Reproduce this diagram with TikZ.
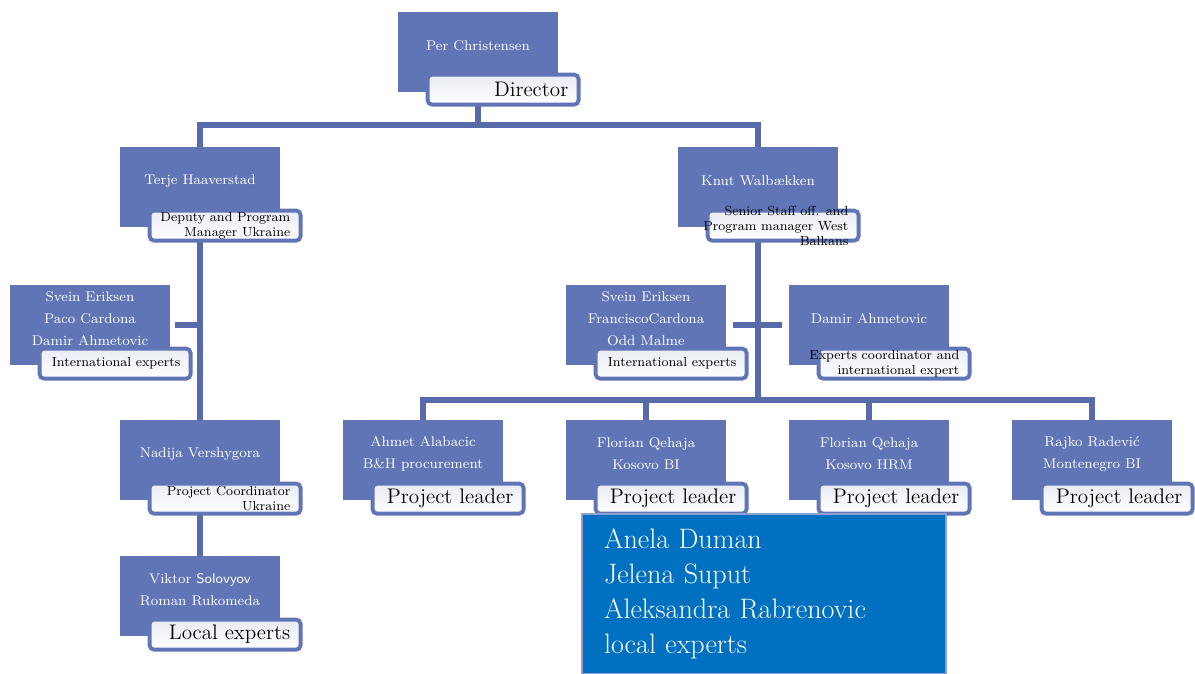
\documentclass[tikz,border=0pt]{standalone}
\usetikzlibrary{backgrounds}
\definecolor{boxblue}{RGB}{96,117,182}
\definecolor{lineblue}{RGB}{88,106,170}
\definecolor{localblue}{RGB}{0,112,192}
\definecolor{rimblue}{RGB}{143,160,208}
\tikzset{
	person/.style={fill=boxblue, minimum width=3.2cm, minimum height=1.6cm, inner sep=0pt},
	who/.style={text=white, align=center, font=\fontsize{8}{12.5}\selectfont},
	role/.style={draw=boxblue, line width=2.2pt, rounded corners=2.5pt, top color=boxblue!14, bottom color=white,
		minimum width=3.02cm, minimum height=0.6cm, inner sep=0pt, anchor=north west},
	duty/.style={anchor=east, align=right, font=\fontsize{7.5}{8.6}\selectfont},
	bigduty/.style={anchor=east, font=\fontsize{12}{14}\selectfont},
	link/.style={draw=lineblue, line width=3.4pt}
}
\begin{document}
\begin{tikzpicture}[x=0.02cm, y=-0.02cm]
	\useasboundingbox (0,0) rectangle (1195,673);
	%director
	\node[person] (per) at (478,52) {};
	\node[who] (perN) at ([yshift=1.2mm]per.center) {Per Christensen};
	\node[role] (perR) at ([shift={(28,61)}]per.north west) {};
	\node[bigduty] (perD) at ([xshift=-1.2mm]perR.east) {Director};
	
	%Ukraine branch
	\node[person] (terje) at (200,187) {};
	\node[who] (terjeN) at ([yshift=1.2mm]terje.center) {Terje Haaverstad};
	\node[role] (terjeR) at ([shift={(28,62)}]terje.north west) {};
	\node[duty] (terjeD) at ([xshift=-1.2mm]terjeR.east) {Deputy and Program\\Manager Ukraine};
	
	\node[person] (intlA) at (90,325) {};
	\node[who] (intlAN) at ([yshift=1.2mm]intlA.center) {Svein Eriksen\\Paco Cardona\\Damir Ahmetovic};
	\node[role] (intlAR) at ([shift={(28,62)}]intlA.north west) {};
	\node[duty] (intlAD) at ([xshift=-1.2mm]intlAR.east) {International experts};
	
	\node[person] (nadija) at (200,460) {};
	\node[who] (nadijaN) at ([yshift=1.2mm]nadija.center) {Nadija Vershygora};
	\node[role] (nadijaR) at ([shift={(28,62)}]nadija.north west) {};
	\node[duty] (nadijaD) at ([xshift=-1.2mm]nadijaR.east) {Project Coordinator\\Ukraine};
	
	\node[person] (viktor) at (200,596) {};
	\node[who] (viktorN) at ([yshift=1.2mm]viktor.center) {Viktor \textsf{Solovyov}\\Roman Rukomeda};
	\node[role] (viktorR) at ([shift={(28,62)}]viktor.north west) {};
	\node[bigduty] (viktorD) at ([xshift=-1.2mm]viktorR.east) {Local experts};
	
	%West Balkans branch
	\node[person] (knut) at (758,187) {};
	\node[who] (knutN) at ([yshift=1.2mm]knut.center) {Knut Walbækken};
	\node[role] (knutR) at ([shift={(28,62)}]knut.north west) {};
	\node[duty] (knutD) at ([xshift=-1.2mm]knutR.east) {Senior Staff off. and\\Program manager West\\Balkans};
	
	\node[person] (intlB) at (646,325) {};
	\node[who] (intlBN) at ([yshift=1.2mm]intlB.center) {Svein Eriksen\\FranciscoCardona\\Odd Malme};
	\node[role] (intlBR) at ([shift={(28,62)}]intlB.north west) {};
	\node[duty] (intlBD) at ([xshift=-1.2mm]intlBR.east) {International experts};
	
	\node[person] (damir) at (869,325) {};
	\node[who] (damirN) at ([yshift=1.2mm]damir.center) {Damir Ahmetovic};
	\node[role] (damirR) at ([shift={(28,62)}]damir.north west) {};
	\node[duty] (damirD) at ([xshift=-1.2mm]damirR.east) {Experts coordinator and\\international expert};
	
	%project leaders
	\foreach \n/\x/\t in {ahmet/423/{Ahmet Alabacic\\B\&H procurement},
		florA/646/{Florian Qehaja\\Kosovo BI},
		florB/869/{Florian Qehaja\\Kosovo HRM},
		rajko/1092/{Rajko Radević\\Montenegro BI}}
	{
		\node[person] (\n) at (\x,460) {};
		\node[who] (\n N) at ([yshift=1.2mm]\n.center) {\t};
		\node[role] (\n R) at ([shift={(28,62)}]\n.north west) {};
		\node[bigduty] (\n D) at ([xshift=-1.2mm]\n R.east) {Project leader};
	}
	
	%local experts
	\node[draw=rimblue, line width=1.2pt, fill=localblue, text=white, minimum width=7.28cm, minimum height=3.2cm,
		text width=6.4cm, inner xsep=0.42cm, align=left, font=\fontsize{16}{20}\selectfont]
		(local) at (764,594) {Anela Duman\\Jelena Suput\\Aleksandra Rabrenovic\\local experts};
	
	%connectors
	\begin{scope}[on background layer]
		\coordinate (dirbus) at (478,125);
		\coordinate (projbus) at (758,400);
		\draw[link] (per.south) -- (dirbus);
		\draw[link] (terje.north) |- (dirbus) -| (knut.north);
		\draw[link] (terje.south) -- (nadija.north);
		\draw[link] (nadija.south) -- (viktor.north);
		\draw[link, shorten <=1mm] (intlA.east) -- (intlA.east -| terje.south);
		\draw[link] (knut.south) -- (projbus);
		\draw[link, shorten <=1.4mm, shorten >=1.4mm] (intlB.east) -- (damir.west);
		\draw[link] (ahmet.north) |- (projbus) -| (rajko.north);
		\draw[link] (florA.north) -- (florA.north |- projbus);
		\draw[link] (florB.north) -- (florB.north |- projbus);
	\end{scope}
\end{tikzpicture}
\end{document}
